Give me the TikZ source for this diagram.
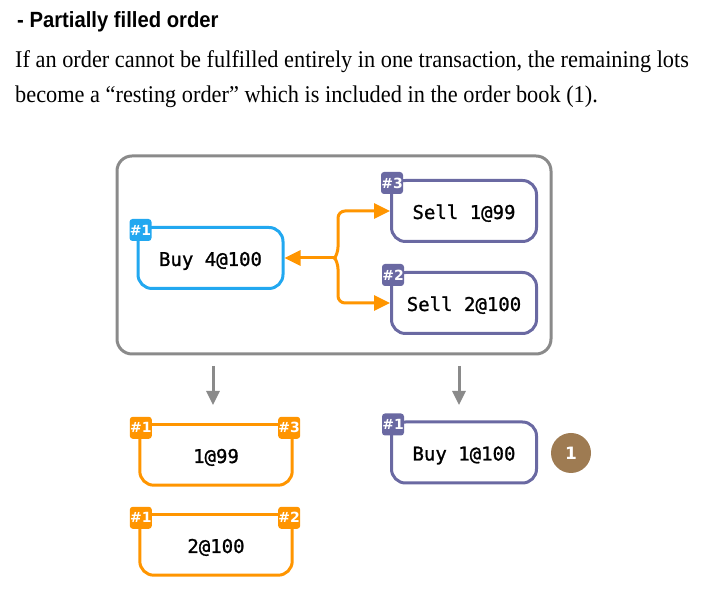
\documentclass[tikz,border=0pt]{standalone}
\usepackage{fontspec}
\setmainfont[FakeStretch=0.93]{Liberation Serif}
\newfontfamily\titlefont[FakeStretch=0.92]{Liberation Sans}
\newfontfamily\monofont[FakeBold=1.2]{DejaVu Sans Mono}
\newfontfamily\badgefont{DejaVu Sans}
\usetikzlibrary{arrows.meta}
\definecolor{cblue}{HTML}{22A8F0}
\definecolor{cpurple}{HTML}{6A69A2}
\definecolor{corange}{HTML}{FF9500}
\definecolor{cgray}{HTML}{8A8A8A}
\definecolor{cbrown}{HTML}{9E7B52}
\tikzset{
  x=1pt, y=1pt,
  order/.style={draw=#1, line width=3pt, rounded corners=14pt, minimum width=145pt, minimum height=61pt, inner sep=0pt, text height=16pt, text depth=0pt, font=\monofont\fontsize{19}{19}\selectfont},
  badge/.style={fill=#1, rounded corners=3pt, minimum size=22pt, inner sep=0pt, text=white, font=\badgefont\bfseries\fontsize{14}{14}\selectfont},
  lot/.style={minimum width=152pt, minimum height=60pt, inner sep=0pt, text height=16pt, text depth=0pt, font=\monofont\fontsize{19}{19}\selectfont},
  oarrow/.style={draw=corange, line width=3pt, -{Triangle[length=16pt,width=15pt]}},
  garrow/.style={draw=cgray, line width=3pt, -{Triangle[length=14pt,width=13pt]}},
  para/.style={anchor=base west, inner sep=0pt, font=\fontsize{24}{24}\selectfont}
}
\begin{document}
\begin{tikzpicture}
\useasboundingbox (0,0) rectangle (704,607);
\node[anchor=base west, inner sep=0pt, font=\titlefont\bfseries\fontsize{22}{22}\selectfont] (title) at (17,579) {- Partially filled order};
\node[para] (p1) at (15,539) {If an order cannot be fulfilled entirely in one transaction, the remaining lots};
\node[para] (p2) at (15,504) {become a \textquotedblleft resting order\textquotedblright{} which is included in the order book (1).};

% outer book
\node[draw=cgray, line width=3pt, rounded corners=15pt, minimum width=434pt, minimum height=198pt, inner sep=0pt] (book) at (334,352) {};

\node[order=cblue] (buy4) at (210.5,349) {Buy 4@100};
\node[order=cpurple] (sell1) at (464,396) {Sell 1@99};
\node[order=cpurple] (sell2) at (464,304) {Sell 2@100};
\node[badge=cblue] (b41) at ([shift={(4,-4)}]buy4.north west) {\#1};
\node[badge=cpurple] (b13) at ([shift={(2,-4)}]sell1.north west) {\#3};
\node[badge=cpurple] (b22) at ([shift={(3,-4)}]sell2.north west) {\#2};

\coordinate (j) at (335,349);
\draw[oarrow] (j) -- (buy4.east);
\draw[oarrow, rounded corners=7pt] (j) -- ++(3,4) |- (sell1.west);
\draw[oarrow, rounded corners=7pt] (j) -- ++(3,-4) |- (sell2.west);

% results
\node[lot] (lot1) at (216,152) {1@99};
\node[lot] (lot2) at (216,62) {2@100};
\draw[corange, line width=3pt, rounded corners=14pt] (lot1.north west) -- (lot1.south west) -- (lot1.south east) -- (lot1.north east);
\draw[corange, line width=3pt] (lot1.north west) -- (lot1.north east);
\draw[corange, line width=3pt, rounded corners=14pt] (lot2.north west) -- (lot2.south west) -- (lot2.south east) -- (lot2.north east);
\draw[corange, line width=3pt] (lot2.north west) -- (lot2.north east);
\node[badge=corange] (l11) at ([shift={(1,-3)}]lot1.north west) {\#1};
\node[badge=corange] (l13) at ([shift={(-3,-3)}]lot1.north east) {\#3};
\node[badge=corange] (l21) at ([shift={(1,-3)}]lot2.north west) {\#1};
\node[badge=corange] (l22) at ([shift={(-3,-3)}]lot2.north east) {\#2};

\node[order=cpurple] (buy1) at (464,154.5) {Buy 1@100};
\node[badge=cpurple] (b11) at ([shift={(3,-4)}]buy1.north west) {\#1};
\node[circle, fill=cbrown, minimum size=40pt, inner sep=0pt, text=white, font=\badgefont\bfseries\fontsize{17}{17}\selectfont] (one) at (571,154) {1};

\coordinate (g1s) at (213,241);
\coordinate (g1e) at (213,202);
\coordinate (g2s) at (459,241);
\coordinate (g2e) at (459,202);
\draw[garrow] (g1s) -- (g1e);
\draw[garrow] (g2s) -- (g2e);
\end{tikzpicture}
\end{document}
